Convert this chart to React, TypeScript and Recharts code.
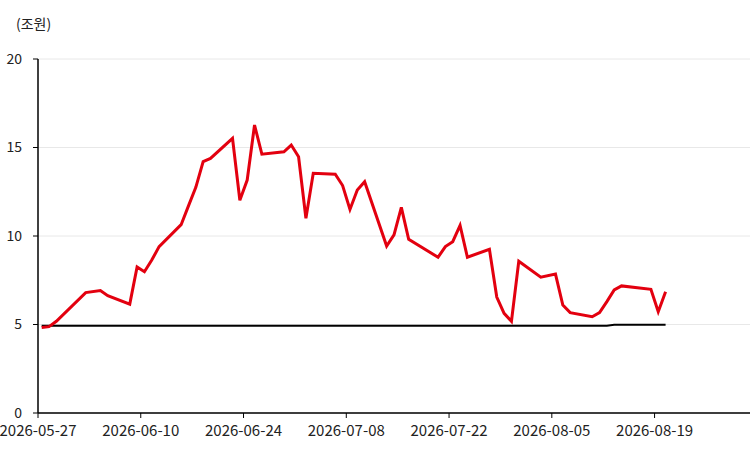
import React from "react";
import { LineChart, Line, XAxis, YAxis, CartesianGrid } from "recharts";

const dates = [
  "2026-05-27", "2026-05-28", "2026-05-29", "2026-06-02", "2026-06-04", "2026-06-05",
  "2026-06-08", "2026-06-09", "2026-06-10", "2026-06-11", "2026-06-12",
  "2026-06-15", "2026-06-16", "2026-06-17", "2026-06-18", "2026-06-19",
  "2026-06-22", "2026-06-23", "2026-06-24", "2026-06-25", "2026-06-26",
  "2026-06-29", "2026-06-30", "2026-07-01", "2026-07-02", "2026-07-03",
  "2026-07-06", "2026-07-07", "2026-07-08", "2026-07-09", "2026-07-10",
  "2026-07-13", "2026-07-14", "2026-07-15", "2026-07-16",
  "2026-07-20", "2026-07-21", "2026-07-22", "2026-07-23", "2026-07-24",
  "2026-07-27", "2026-07-28", "2026-07-29", "2026-07-30", "2026-07-31",
  "2026-08-03", "2026-08-05", "2026-08-06", "2026-08-07",
  "2026-08-10", "2026-08-11", "2026-08-12", "2026-08-13", "2026-08-14",
  "2026-08-18", "2026-08-19", "2026-08-20",
];

const redValues = [
  4.83, 4.88, 5.18, 6.8, 6.92, 6.63,
  6.15, 8.25, 7.98, 8.64, 9.4,
  10.64, 11.7, 12.75, 14.2, 14.38,
  15.52, 12.02, 13.16, 16.27, 14.62,
  14.76, 15.14, 14.48, 11.0, 13.54,
  13.49, 12.85, 11.5, 12.6, 13.07,
  9.43, 10.06, 11.62, 9.81,
  8.8, 9.4, 9.68, 10.6, 8.8,
  9.25, 6.55, 5.63, 5.18, 8.57,
  7.67, 7.85, 6.1, 5.67,
  5.44, 5.67, 6.29, 6.95, 7.18,
  6.99, 5.72, 6.85,
];

const blackValues = [
  4.93, 4.93, 4.93, 4.93, 4.93, 4.93,
  4.93, 4.93, 4.93, 4.93, 4.93,
  4.93, 4.93, 4.93, 4.93, 4.93,
  4.93, 4.93, 4.93, 4.93, 4.93,
  4.93, 4.93, 4.93, 4.93, 4.93,
  4.93, 4.93, 4.93, 4.93, 4.93,
  4.93, 4.93, 4.93, 4.93,
  4.93, 4.93, 4.93, 4.93, 4.93,
  4.93, 4.93, 4.93, 4.93, 4.93,
  4.93, 4.93, 4.93, 4.93,
  4.93, 4.93, 4.93, 4.98, 4.98,
  4.98, 4.98, 4.98,
];

const xTickLabels = [
  "2026-05-27", "2026-06-10", "2026-06-24", "2026-07-08",
  "2026-07-22", "2026-08-05", "2026-08-19",
];
const yTicks = [0, 5, 10, 15, 20];
const unitLabel = "(조원)";

const DAY = 86400000;
const origin = Date.parse("2026-05-27");
const toDay = (s: string) => (Date.parse(s) - origin) / DAY;

const data = dates.map((d, i) => ({
  x: toDay(d) + 0.5,
  red: redValues[i],
  black: blackValues[i],
}));
const xTicks = xTickLabels.map(toDay);
const labelFor = (v: number) => {
  const idx = xTicks.indexOf(v);
  return idx >= 0 ? xTickLabels[idx] : "";
};

const FONT = "'Noto Sans CJK KR', 'Noto Sans', sans-serif";

export default function App() {
  return (
    <div style={{ position: "absolute", left: 0, top: 0, width: 750, height: 463, background: "#fff" }}>
      <div
        style={{
          position: "absolute",
          left: 16,
          top: 13,
          fontFamily: FONT,
          fontSize: 14,
          color: "#222",
        }}
      >
        {unitLabel}
      </div>
      <LineChart
        width={750}
        height={463}
        data={data}
        margin={{ top: 59, right: 0, bottom: 0, left: 0 }}
      >
        <CartesianGrid vertical={false} stroke="#e8e8e8" strokeWidth={1} />
        <XAxis
          type="number"
          dataKey="x"
          domain={[0, 97]}
          ticks={xTicks}
          tickFormatter={labelFor}
          allowDataOverflow
          height={50}
          axisLine={{ stroke: "#000", strokeWidth: 1.5 }}
          tickLine={{ stroke: "#000" }}
          tickSize={5}
          tickMargin={7}
          tick={{ fill: "#222", fontSize: 15, fontFamily: FONT }}
          interval={0}
        />
        <YAxis
          type="number"
          domain={[0, 20]}
          ticks={yTicks}
          width={38}
          axisLine={{ stroke: "#000", strokeWidth: 1.5 }}
          tickLine={{ stroke: "#000" }}
          tickSize={5}
          tickMargin={11}
          tick={{ fill: "#222", fontSize: 14, fontFamily: FONT }}
          interval={0}
        />
        <Line
          type="linear"
          dataKey="black"
          stroke="#000"
          strokeWidth={2}
          dot={false}
          isAnimationActive={false}
        />
        <Line
          type="linear"
          dataKey="red"
          stroke="#e3000f"
          strokeWidth={3}
          dot={false}
          isAnimationActive={false}
        />
      </LineChart>
    </div>
  );
}
